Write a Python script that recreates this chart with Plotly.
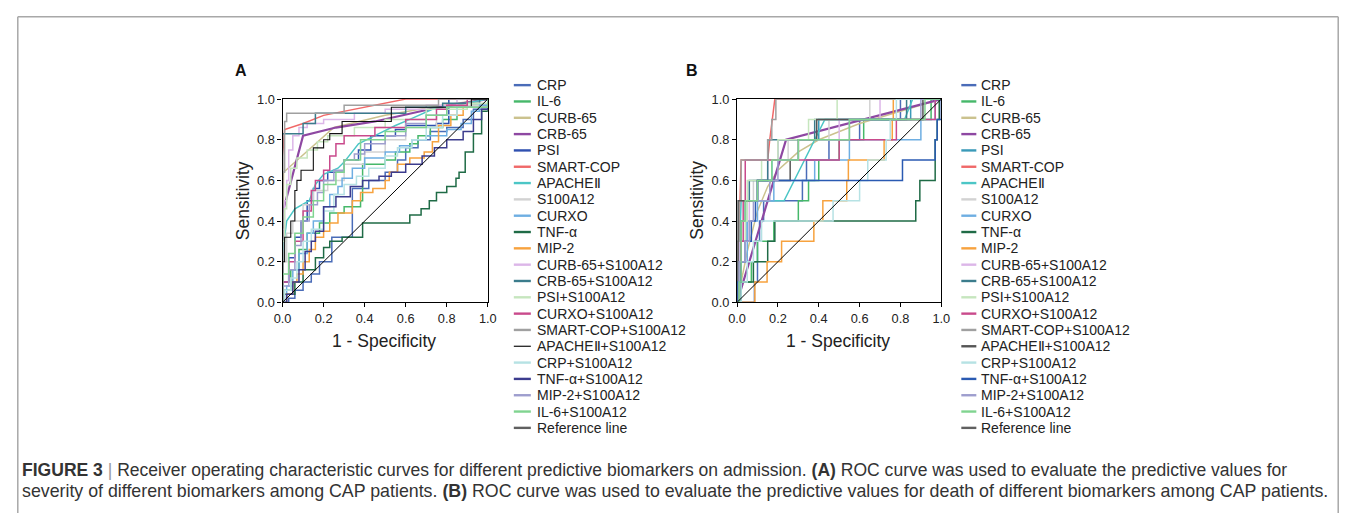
import plotly.graph_objects as go

# Figure size (page body adds an 8px margin)
W, H = 1340, 505
BODY = 8
# mapping from target picture pixels to page pixels (observed in the returned picture)
SX, PX = 1376 / 1356, 10
SY, PY = 535 / 521, 7

# ---------------- data ----------------
series_names = ["CRP", "IL-6", "CURB-65", "CRB-65", "PSI", "SMART-COP", "APACHEⅡ", "S100A12",
                "CURXO", "TNF-α", "MIP-2", "CURB-65+S100A12", "CRB-65+S100A12", "PSI+S100A12",
                "CURXO+S100A12", "SMART-COP+S100A12", "APACHEⅡ+S100A12", "CRP+S100A12",
                "TNF-α+S100A12", "MIP-2+S100A12", "IL-6+S100A12", "Reference line"]
tick_vals = [0.0, 0.2, 0.4, 0.6, 0.8, 1.0]
tick_text = ["0.0", "0.2", "0.4", "0.6", "0.8", "1.0"]

# Panel A (severity) - (1-specificity, sensitivity)
A_CRP = [[0,0],[0.03,0.02],[0.06,0.06],[0.1,0.1],[0.14,0.14],[0.18,0.2],[0.24,0.32],[0.34,0.56],[0.42,0.6],[0.5,0.64],[0.56,0.7],[0.6,0.76],[0.66,0.8],[0.72,0.84],[0.8,0.86],[0.88,0.9],[0.93,0.95],[1,1]]
A_IL6 = [[0,0],[0,0.06],[0.04,0.16],[0.08,0.26],[0.12,0.34],[0.18,0.39],[0.23,0.44],[0.3,0.47],[0.38,0.5],[0.39,0.68],[0.5,0.7],[0.55,0.74],[0.62,0.78],[0.66,0.82],[0.72,0.86],[0.78,0.9],[0.85,0.96],[0.92,0.97],[1,1]]
A_CURB65 = [[0,0],[0.005,0.64],[0.25,0.86],[0.5,0.92],[0.78,0.97],[1,1]]
A_CRB65 = [[0,0],[0,0.44],[0.1,0.82],[0.26,0.86],[0.45,0.89],[0.76,0.96],[1,1]]
A_PSI = [[0,0],[0,0.1],[0.03,0.22],[0.06,0.32],[0.09,0.4],[0.12,0.5],[0.15,0.56],[0.18,0.6],[0.22,0.64],[0.3,0.7],[0.37,0.75],[0.43,0.82],[0.55,0.85],[0.6,0.87],[0.75,0.88],[0.81,1.0],[1,1]]
A_SMARTCOP = [[0,0],[0,0.72],[0.01,0.85],[0.04,0.86],[0.1,0.88],[0.2,0.92],[0.3,0.94],[0.4,0.96],[0.5,0.98],[0.6,1.0],[1,1]]
A_APACHE = [[0,0],[0,0.24],[0.02,0.4],[0.06,0.46],[0.13,0.5],[0.16,0.58],[0.2,0.63],[0.27,0.66],[0.3,0.69],[0.37,0.78],[0.45,0.82],[0.55,0.87],[0.62,0.9],[0.73,0.95],[0.84,0.97],[1,1]]
A_S100A12 = [[0,0],[0,0.2],[0.02,0.34],[0.05,0.4],[0.1,0.48],[0.15,0.55],[0.22,0.6],[0.3,0.68],[0.4,0.74],[0.5,0.8],[0.6,0.86],[0.75,0.92],[0.85,0.97],[1,1]]
A_CURXO = [[0,0],[0.02,0.08],[0.05,0.16],[0.08,0.24],[0.12,0.34],[0.15,0.4],[0.2,0.47],[0.23,0.53],[0.27,0.57],[0.29,0.61],[0.34,0.66],[0.4,0.71],[0.5,0.74],[0.57,0.77],[0.63,0.8],[0.7,0.82],[0.8,0.85],[0.87,0.88],[0.92,0.94],[0.96,0.97],[1,1]]
A_TNF = [[0,0],[0,0.04],[0.06,0.1],[0.1,0.16],[0.16,0.22],[0.2,0.27],[0.23,0.3],[0.29,0.32],[0.39,0.39],[0.62,0.43],[0.675,0.46],[0.715,0.5],[0.75,0.54],[0.8,0.57],[0.845,0.61],[0.86,0.64],[0.89,0.74],[0.93,0.83],[0.97,0.94],[1.0,1.0]]
A_MIP2 = [[0,0],[0.02,0.04],[0.05,0.1],[0.07,0.14],[0.1,0.2],[0.13,0.26],[0.16,0.32],[0.2,0.35],[0.23,0.39],[0.27,0.44],[0.34,0.5],[0.38,0.54],[0.44,0.56],[0.5,0.6],[0.52,0.64],[0.56,0.68],[0.62,0.71],[0.69,0.74],[0.73,0.79],[0.76,0.87],[0.82,0.92],[0.88,0.96],[1,1]]
A_CURB65_S = [[0,0],[0,0.36],[0.01,0.5],[0.02,0.6],[0.03,0.75],[0.05,0.82],[0.08,0.86],[0.12,0.88],[0.2,0.9],[0.35,0.93],[0.5,0.95],[0.7,0.97],[0.85,1.0],[1,1]]
A_CRB65_S = [[0,0],[0,0.83],[0.1,0.88],[0.16,0.93],[0.6,0.96],[0.78,0.98],[0.96,1.0],[1,1]]
A_PSI_S = [[0,0],[0,0.3],[0.01,0.46],[0.02,0.58],[0.04,0.66],[0.07,0.71],[0.12,0.75],[0.17,0.79],[0.22,0.82],[0.35,0.86],[0.5,0.9],[0.7,0.95],[0.9,0.98],[1,1]]
A_CURXO_S = [[0,0],[0,0.1],[0.03,0.2],[0.06,0.3],[0.1,0.45],[0.14,0.55],[0.16,0.6],[0.2,0.65],[0.23,0.72],[0.26,0.78],[0.3,0.82],[0.45,0.86],[0.6,0.9],[0.75,0.95],[0.8,0.97],[0.9,1.0],[1,1]]
A_SMARTCOP_S = [[0,0],[0,0.64],[0.01,0.89],[0.02,0.93],[0.3,0.97],[0.76,1.0],[1,1]]
A_APACHE_S = [[0,0],[0,0.2],[0.01,0.32],[0.04,0.4],[0.06,0.55],[0.07,0.6],[0.09,0.65],[0.15,0.76],[0.2,0.8],[0.23,0.83],[0.29,0.89],[0.53,0.96],[0.92,1.0],[1,1]]
A_CRP_S = [[0,0],[0.01,0.06],[0.04,0.12],[0.07,0.2],[0.1,0.3],[0.14,0.36],[0.2,0.45],[0.25,0.53],[0.3,0.58],[0.36,0.62],[0.42,0.66],[0.5,0.72],[0.56,0.76],[0.63,0.8],[0.7,0.86],[0.78,0.92],[0.85,0.96],[1,1]]
A_TNF_S = [[0,0],[0.02,0.04],[0.05,0.1],[0.08,0.16],[0.11,0.25],[0.14,0.3],[0.16,0.35],[0.2,0.47],[0.26,0.52],[0.33,0.57],[0.39,0.6],[0.47,0.62],[0.53,0.64],[0.6,0.68],[0.68,0.72],[0.74,0.76],[0.8,0.8],[0.88,0.84],[0.93,0.9],[0.97,0.95],[1,1]]
A_MIP2_S = [[0,0],[0,0.08],[0.03,0.16],[0.06,0.28],[0.09,0.4],[0.13,0.48],[0.17,0.54],[0.2,0.6],[0.25,0.65],[0.3,0.7],[0.35,0.73],[0.4,0.78],[0.5,0.82],[0.6,0.88],[0.7,0.92],[0.8,0.96],[1,1]]
A_IL6_S = [[0,0],[0,0.14],[0.03,0.24],[0.06,0.34],[0.1,0.42],[0.15,0.5],[0.2,0.58],[0.26,0.64],[0.3,0.7],[0.38,0.8],[0.5,0.84],[0.6,0.86],[0.7,0.92],[0.8,0.96],[1,1]]

# Panel B (death)
B_CRP = [[0,0],[0.085,0.1],[0.1,0.3],[0.11,0.4],[0.13,0.5],[0.32,0.6],[0.34,0.7],[0.45,0.8],[0.6,0.9],[0.8,1.0],[1,1]]
B_IL6 = [[0,0],[0.01,0.1],[0.07,0.2],[0.1,0.3],[0.18,0.4],[0.3,0.5],[0.35,0.6],[0.4,0.7],[0.5,0.8],[0.62,0.9],[0.95,1.0],[1,1]]
B_CURB65 = [[0,0],[0.05,0.25],[0.1,0.45],[0.15,0.57],[0.2,0.65],[0.3,0.74],[0.4,0.8],[0.6,0.88],[1,1]]
B_CRB65 = [[0,0],[0.24,0.8],[1,1]]
B_PSI = [[0,0],[0,0.1],[0.02,0.3],[0.05,0.5],[0.1,0.6],[0.17,0.7],[0.2,0.8],[0.4,0.9],[0.85,1.0],[1,1]]
B_SMARTCOP = [[0,0],[0.01,0.3],[0.02,0.7],[0.15,0.7],[0.16,0.8],[0.185,1.0],[1,1]]
B_APACHE = [[0,0],[0.01,0.2],[0.02,0.5],[0.23,0.5],[0.43,0.9],[0.82,0.9],[0.86,1.0],[1,1]]
B_S100A12 = [[0,0],[0,0.2],[0.02,0.4],[0.05,0.5],[0.08,0.6],[0.15,0.7],[0.25,0.8],[0.45,0.9],[0.65,1.0],[1,1]]
B_CURXO = [[0,0],[0.02,0.2],[0.05,0.4],[0.1,0.5],[0.18,0.6],[0.38,0.7],[0.55,0.8],[0.9,0.9],[0.97,1.0],[1,1]]
B_TNF = [[0,0],[0.02,0.1],[0.08,0.2],[0.15,0.3],[0.185,0.4],[0.875,0.5],[0.895,0.6],[0.97,0.8],[0.98,0.9],[0.99,1.0],[1,1]]
B_MIP2 = [[0,0],[0.087,0.1],[0.147,0.2],[0.218,0.3],[0.376,0.4],[0.42,0.5],[0.537,0.6],[0.545,0.7],[0.72,0.8],[0.76,0.9],[0.765,1.0],[1,1]]
B_CURB65_S = [[0,0],[0.01,0.3],[0.06,0.5],[0.1,0.6],[0.15,0.7],[0.2,0.8],[0.5,0.9],[0.7,1.0],[1,1]]
B_CRB65_S = [[0,0],[0,0.2],[0.02,0.4],[0.04,0.5],[0.06,0.6],[0.15,0.8],[0.38,0.9],[0.83,1.0],[1,1]]
B_PSI_S = [[0,0],[0.01,0.2],[0.04,0.4],[0.05,0.6],[0.12,0.7],[0.2,0.8],[0.35,0.9],[0.49,1.0],[1,1]]
B_CURXO_S = [[0,0],[0,0.1],[0.02,0.3],[0.03,0.5],[0.04,0.7],[0.5,0.8],[0.78,0.9],[0.97,1.0],[1,1]]
B_SMARTCOP_S = [[0,0],[0,0.3],[0.01,0.5],[0.02,0.7],[0.15,0.8],[0.17,0.9],[0.19,1.0],[1,1]]
B_APACHE_S = [[0,0],[0.005,0.5],[0.1,0.6],[0.26,0.7],[0.3,0.8],[0.39,0.9],[0.91,1.0],[1,1]]
B_CRP_S = [[0,0],[0.02,0.1],[0.05,0.2],[0.08,0.3],[0.12,0.4],[0.47,0.5],[0.6,0.6],[0.64,0.7],[0.73,0.8],[0.75,0.9],[0.78,1.0],[1,1]]
B_TNF_S = [[0,0],[0,0.1],[0.02,0.2],[0.04,0.3],[0.07,0.4],[0.09,0.5],[0.1,0.6],[0.81,0.7],[0.97,0.8],[0.98,0.9],[1,1]]
B_MIP2_S = [[0,0],[0.01,0.2],[0.04,0.3],[0.06,0.4],[0.08,0.5],[0.16,0.6],[0.2,0.7],[0.3,0.8],[0.55,0.9],[0.9,1.0],[1,1]]
B_IL6_S = [[0,0],[0.01,0.1],[0.02,0.4],[0.04,0.5],[0.1,0.6],[0.17,0.7],[0.3,0.8],[0.55,0.9],[0.92,1.0],[1,1]]

reference = [[0, 0], [1, 1]]

panel_A = [A_CRP, A_IL6, A_CURB65, A_CRB65, A_PSI, A_SMARTCOP, A_APACHE, A_S100A12, A_CURXO, A_TNF,
           A_MIP2, A_CURB65_S, A_CRB65_S, A_PSI_S, A_CURXO_S, A_SMARTCOP_S, A_APACHE_S, A_CRP_S,
           A_TNF_S, A_MIP2_S, A_IL6_S]
panel_B = [B_CRP, B_IL6, B_CURB65, B_CRB65, B_PSI, B_SMARTCOP, B_APACHE, B_S100A12, B_CURXO, B_TNF,
           B_MIP2, B_CURB65_S, B_CRB65_S, B_PSI_S, B_CURXO_S, B_SMARTCOP_S, B_APACHE_S, B_CRP_S,
           B_TNF_S, B_MIP2_S, B_IL6_S]

# ---------------- styles ----------------
colors_A = ["#4a6cb8", "#46b86a", "#cbc28e", "#8e48a2", "#2f50b0", "#f06868", "#4cc6c6", "#d2d2d2",
            "#6eaee2", "#1f6b46", "#f7a23e", "#dcb6e8", "#3b7c8c", "#c6e6be", "#c94a8c", "#a0a0a0",
            "#111111", "#b6e2e4", "#3c3c8e", "#9e9ece", "#80d490", "#606060"]
colors_B = list(colors_A)
colors_B[4] = "#3a9ab8"
colors_B[16] = "#555555"
colors_B[18] = "#2a5ab2"
linear_idx = {2, 3, 5, 6}
FONT = "Liberation Sans, Arial, Helvetica, sans-serif"

fig = go.Figure()

def fx(r):
    """target picture x (px) -> paper fraction"""
    return (r * SX - PX - BODY) / W

def fy(r):
    """target picture y (px) -> paper fraction"""
    return 1 - (r * SY - PY - BODY) / H

panels = [
    dict(data=panel_A, colors=colors_A, xa="x", ya="y", x0=283, x1=488, letter="A", letx=241,
         leg_line=(514, 531), leg_text=535),
    dict(data=panel_B, colors=colors_B, xa="x2", ya="y2", x0=737, x1=941, letter="B", letx=692,
         leg_line=(961, 976), leg_text=979),
]
Y_TOP, Y_BOT = 98, 302

shapes = []
annotations = []
for pi, P in enumerate(panels):
    for i, pts in enumerate(P["data"]):
        xs = [p[0] for p in pts]
        ys = [p[1] for p in pts]
        lw = 2.2 if i == 3 else (1.1 if i == 16 and pi == 0 else 1.5)
        fig.add_trace(go.Scatter(x=xs, y=ys, mode="lines", xaxis=P["xa"], yaxis=P["ya"],
                                 line=dict(color=P["colors"][i], width=lw,
                                           shape="linear" if i in linear_idx else "hv"),
                                 showlegend=False, hoverinfo="skip"))
    fig.add_trace(go.Scatter(x=[p[0] for p in reference], y=[p[1] for p in reference], mode="lines",
                             xaxis=P["xa"], yaxis=P["ya"], line=dict(color="#000000", width=1),
                             showlegend=False, hoverinfo="skip"))
    # legend
    for i, name in enumerate(series_names):
        yy = 84 + i * 16.38
        lw = 1.2 if (i == 16 and pi == 0) else 2.4
        shapes.append(dict(type="line", xref="paper", yref="paper",
                           x0=fx(P["leg_line"][0]), x1=fx(P["leg_line"][1]),
                           y0=fy(yy), y1=fy(yy), line=dict(color=P["colors"][i], width=lw)))
        annotations.append(dict(x=fx(P["leg_text"]), y=fy(yy), xref="paper", yref="paper",
                                text=name, showarrow=False, xanchor="left", yanchor="middle",
                                font=dict(family=FONT, size=14, color="#222222")))
    # panel letter
    annotations.append(dict(x=fx(P["letx"]), y=fy(69), xref="paper", yref="paper",
                            text="<b>%s</b>" % P["letter"], showarrow=False, xanchor="center",
                            yanchor="middle", font=dict(family=FONT, size=16, color="#111111")))
    # axis titles
    annotations.append(dict(x=fx((P["x0"] + P["x1"]) / 2 - 1), y=fy(341), xref="paper", yref="paper",
                            text="1 - Specificity", showarrow=False, xanchor="center", yanchor="middle",
                            font=dict(family=FONT, size=17.5, color="#222222")))
    annotations.append(dict(x=fx(P["x0"] - 40), y=fy(200), xref="paper", yref="paper",
                            text="Sensitivity", showarrow=False, xanchor="center", yanchor="middle",
                            textangle=-90, font=dict(family=FONT, size=17.5, color="#222222")))

axis_common = dict(range=[0, 1], showline=True, mirror=True, linecolor="#000000", linewidth=1.2,
                   ticks="outside", ticklen=4, tickwidth=1, tickcolor="#000000",
                   tickvals=tick_vals, ticktext=tick_text, showgrid=False, zeroline=False,
                   tickfont=dict(family=FONT, size=12.8, color="#222222"), fixedrange=True)

fig.update_layout(
    xaxis=dict(domain=[fx(283), fx(488)], anchor="y", **axis_common),
    yaxis=dict(domain=[fy(Y_BOT), fy(Y_TOP)], anchor="x", **axis_common),
    xaxis2=dict(domain=[fx(737), fx(941)], anchor="y2", **axis_common),
    yaxis2=dict(domain=[fy(Y_BOT), fy(Y_TOP)], anchor="x2", **axis_common),
)

# outer frame (left, top, right) - clamped to the drawable figure area
frame_col = "#a8a8a8"
fl, fr = max(fx(8), 0.8 / W), min(fx(1353), 1 - 0.8 / W)
ft = min(fy(11), 1 - 0.8 / H)
shapes.append(dict(type="line", xref="paper", yref="paper", x0=fl, x1=fl, y0=ft, y1=-0.05,
                   line=dict(color=frame_col, width=1.5)))
shapes.append(dict(type="line", xref="paper", yref="paper", x0=fl, x1=fr, y0=ft, y1=ft,
                   line=dict(color=frame_col, width=1.5)))
shapes.append(dict(type="line", xref="paper", yref="paper", x0=fr, x1=fr, y0=ft, y1=-0.05,
                   line=dict(color=frame_col, width=1.5)))

cap1 = ("<b>FIGURE 3</b> <span style='color:#999'>|</span> Receiver operating characteristic curves for different predictive "
        "biomarkers on admission. <b>(A)</b> ROC curve was used to evaluate the predictive values for")
cap2 = ("severity of different biomarkers among CAP patients. <b>(B)</b> ROC curve was used to evaluate the "
        "predictive values for death of different biomarkers among CAP patients.")
annotations.append(dict(x=fx(21), y=fy(470), xref="paper", yref="paper", text=cap1, showarrow=False,
                        xanchor="left", yanchor="middle", font=dict(family=FONT, size=17.55, color="#333333")))
annotations.append(dict(x=fx(21), y=fy(491), xref="paper", yref="paper", text=cap2, showarrow=False,
                        xanchor="left", yanchor="middle", font=dict(family=FONT, size=17.8, color="#333333")))

fig.update_layout(width=W, height=H, margin=dict(l=0, r=0, t=0, b=0), paper_bgcolor="white",
                  plot_bgcolor="white", showlegend=False, shapes=shapes, annotations=annotations)

fig.write_html("out.html")
